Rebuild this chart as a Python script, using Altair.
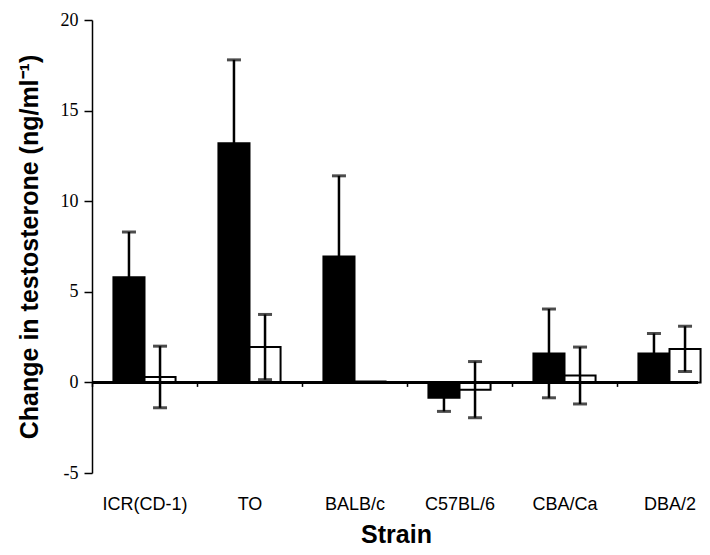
import altair as alt
import pandas as pd

strains = ["ICR(CD-1)", "TO", "BALB/c", "C57BL/6", "CBA/Ca", "DBA/2"]
groups = ["A", "B"]
black_mean = [5.8, 13.2, 6.95, -0.85, 1.6, 1.6]
black_err = [2.5, 4.6, 4.45, 0.75, 2.45, 1.1]
white_mean = [0.3, 1.95, 0.05, -0.4, 0.38, 1.85]
white_err = [1.7, 1.8, 0.0, 1.55, 1.57, 1.25]
y_ticks = [-5, 0, 5, 10, 15, 20]

rows = []
for i, s in enumerate(strains):
    for g, m, e in (("A", black_mean[i], black_err[i]), ("B", white_mean[i], white_err[i])):
        rows.append({"strain": s, "group": g, "mean": m, "err": e, "lo": m - e, "hi": m + e})
df = pd.DataFrame(rows)

x_enc = alt.X(
    "strain:N",
    sort=strains,
    scale=alt.Scale(range=[0, 630], paddingInner=0, paddingOuter=0),
    axis=alt.Axis(
        title="Strain",
        orient="bottom",
        offset=-90.6,
        domain=False,
        tickBand="extent",
        tickSize=4,
        tickWidth=1.5,
        tickColor="black",
        labelAngle=0,
        labelPadding=109,
        labelFont="Liberation Sans",
        labelFontSize=18,
        labelColor="black",
        titleFont="Liberation Sans",
        titleFontSize=25,
        titleFontWeight="bold",
        titleColor="black",
        titlePadding=9,
        titleX=304,
    ),
)
xo_enc = alt.XOffset("group:N", sort=groups, scale=alt.Scale(paddingInner=0, paddingOuter=0.69))
y_scale = alt.Scale(domain=[-5, 20], nice=False, zero=False)

base = alt.Chart(df)

zero_line = alt.Chart(df).mark_rule(color="black", strokeWidth=2).encode(
    y=alt.datum(0, scale=y_scale)
)

bars = base.mark_bar(stroke="black", strokeWidth=2).encode(
    x=x_enc,
    xOffset=xo_enc,
    y=alt.Y(
        "mean:Q",
        scale=y_scale,
        axis=alt.Axis(
            title="Change in testosterone (ng/ml⁻¹)",
            values=y_ticks,
            labelExpr="'' + datum.value",
            grid=False,
            domainColor="black",
            domainWidth=1.5,
            tickColor="black",
            tickSize=8,
            tickWidth=1.5,
            labelPadding=6,
            labelFont="Liberation Serif",
            labelFontSize=18,
            labelColor="black",
            titleFont="Liberation Sans",
            titleFontSize=25,
            titleFontWeight="bold",
            titleColor="black",
            titlePadding=18,
        ),
    ),
    y2=alt.datum(0),
    fill=alt.Fill("group:N", sort=groups, scale=alt.Scale(domain=groups, range=["black", "white"]), legend=None),
)

err_base = base.transform_filter("datum.err > 0")
err_rule = err_base.mark_rule(color="black", strokeWidth=2.5).encode(
    x=alt.X("strain:N", sort=strains),
    xOffset=alt.XOffset("group:N", sort=groups),
    y=alt.Y("lo:Q", scale=y_scale),
    y2="hi:Q",
)
cap_hi = err_base.mark_tick(color="black", thickness=3, size=14).encode(
    x=alt.X("strain:N", sort=strains),
    xOffset=alt.XOffset("group:N", sort=groups),
    y=alt.Y("hi:Q", scale=y_scale),
)
cap_lo = err_base.mark_tick(color="black", thickness=3, size=14).encode(
    x=alt.X("strain:N", sort=strains),
    xOffset=alt.XOffset("group:N", sort=groups),
    y=alt.Y("lo:Q", scale=y_scale),
)

chart = (
    alt.layer(bars, zero_line, err_rule, cap_hi, cap_lo)
    .properties(
        width=606,
        height=453,
        autosize=alt.AutoSizeParams(type="none"),
        padding={"left": 84, "top": 12, "right": 4, "bottom": 80},
        background="white",
    )
    .configure_view(stroke=None)
)

chart.save("out.html", embed_options={"renderer": "svg", "actions": False})
